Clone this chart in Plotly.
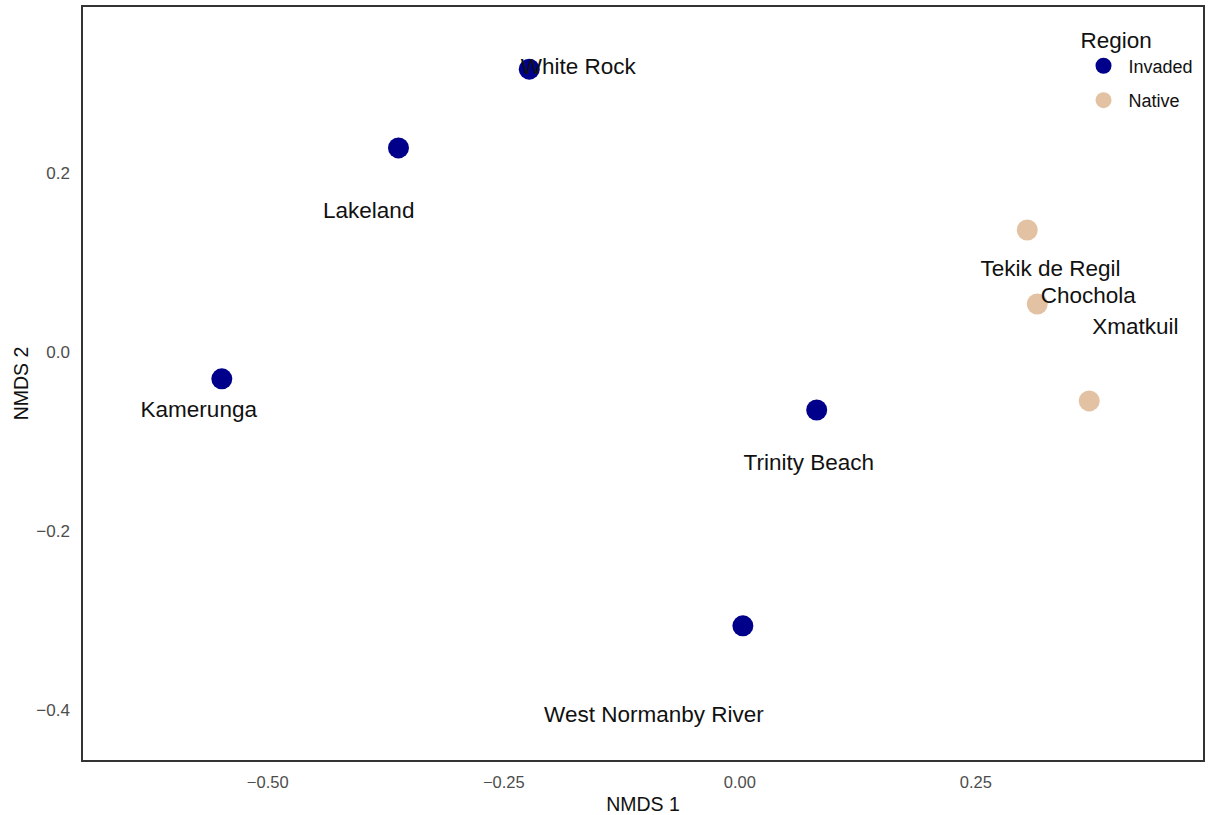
import plotly.graph_objects as go

sites = ["White Rock", "Lakeland", "Kamerunga", "Trinity Beach", "West Normanby River",
         "Tekik de Regil", "Chochola", "Xmatkuil"]
region = ["Invaded", "Invaded", "Invaded", "Invaded", "Invaded", "Native", "Native", "Native"]
nmds1 = [-0.223, -0.3615, -0.5486, 0.0814, 0.0032, 0.3044, 0.315, 0.370]
nmds2 = [0.316, 0.228, -0.030, -0.0648, -0.306, 0.1363, 0.0536, -0.0547]
label_x = [-0.171, -0.393, -0.573, 0.073, -0.091, 0.329, 0.369, 0.419]
label_y = [0.317, 0.156, -0.066, -0.126, -0.407, 0.0916, 0.0615, 0.0268]

colors = {"Invaded": "#00008B", "Native": "#E2C2A2"}
FONT = "Liberation Sans, Arial, sans-serif"

fig = go.Figure()
for reg in ["Invaded", "Native"]:
    xs = [x for x, r in zip(nmds1, region) if r == reg]
    ys = [y for y, r in zip(nmds2, region) if r == reg]
    fig.add_trace(go.Scatter(x=xs, y=ys, mode="markers", name=reg, legendgroup=reg,
                             marker=dict(color=colors[reg], size=21, line=dict(width=0))))
fig.add_trace(go.Scatter(x=label_x, y=label_y, mode="text", text=sites,
                         textfont=dict(family=FONT, size=22.5, color="#111111"),
                         showlegend=False, hoverinfo="skip"))

fig.update_layout(
    width=1208, height=815,
    margin=dict(l=83, r=3, t=7, b=54),
    paper_bgcolor="white", plot_bgcolor="white",
    font=dict(family=FONT),
    legend=dict(title=dict(text="Region", font=dict(size=22.5, color="#111111")),
                font=dict(size=18, color="#111111"),
                x=0.996, y=0.985, xanchor="right", yanchor="top",
                bgcolor="rgba(0,0,0,0)", itemsizing="trace", tracegroupgap=8,
                itemwidth=40),
)
fig.update_xaxes(range=[-0.6956, 0.4905], tickvals=[-0.5, -0.25, 0, 0.25],
                 ticktext=["\u22120.50", "\u22120.25", "0.00", "0.25"],
                 showgrid=False, zeroline=False, showline=True, mirror=True,
                 linecolor="#333333", linewidth=1.5, ticks="", ticklabelstandoff=6,
                 tickfont=dict(size=16.5, color="#4D4D4D"),
                 title=dict(text="NMDS 1", font=dict(size=19.5, color="#111111"), standoff=8))
fig.update_yaxes(range=[-0.4559, 0.3855], tickvals=[-0.4, -0.2, 0, 0.2],
                 ticktext=["\u22120.4", "\u22120.2", "0.0", "0.2"],
                 showgrid=False, zeroline=False, showline=True, mirror=True,
                 linecolor="#333333", linewidth=1.5, ticks="", ticklabelstandoff=8,
                 tickfont=dict(size=17, color="#4D4D4D"),
                 title=dict(text="NMDS 2", font=dict(size=19.5, color="#111111"), standoff=2))

fig.write_html("out.html")
